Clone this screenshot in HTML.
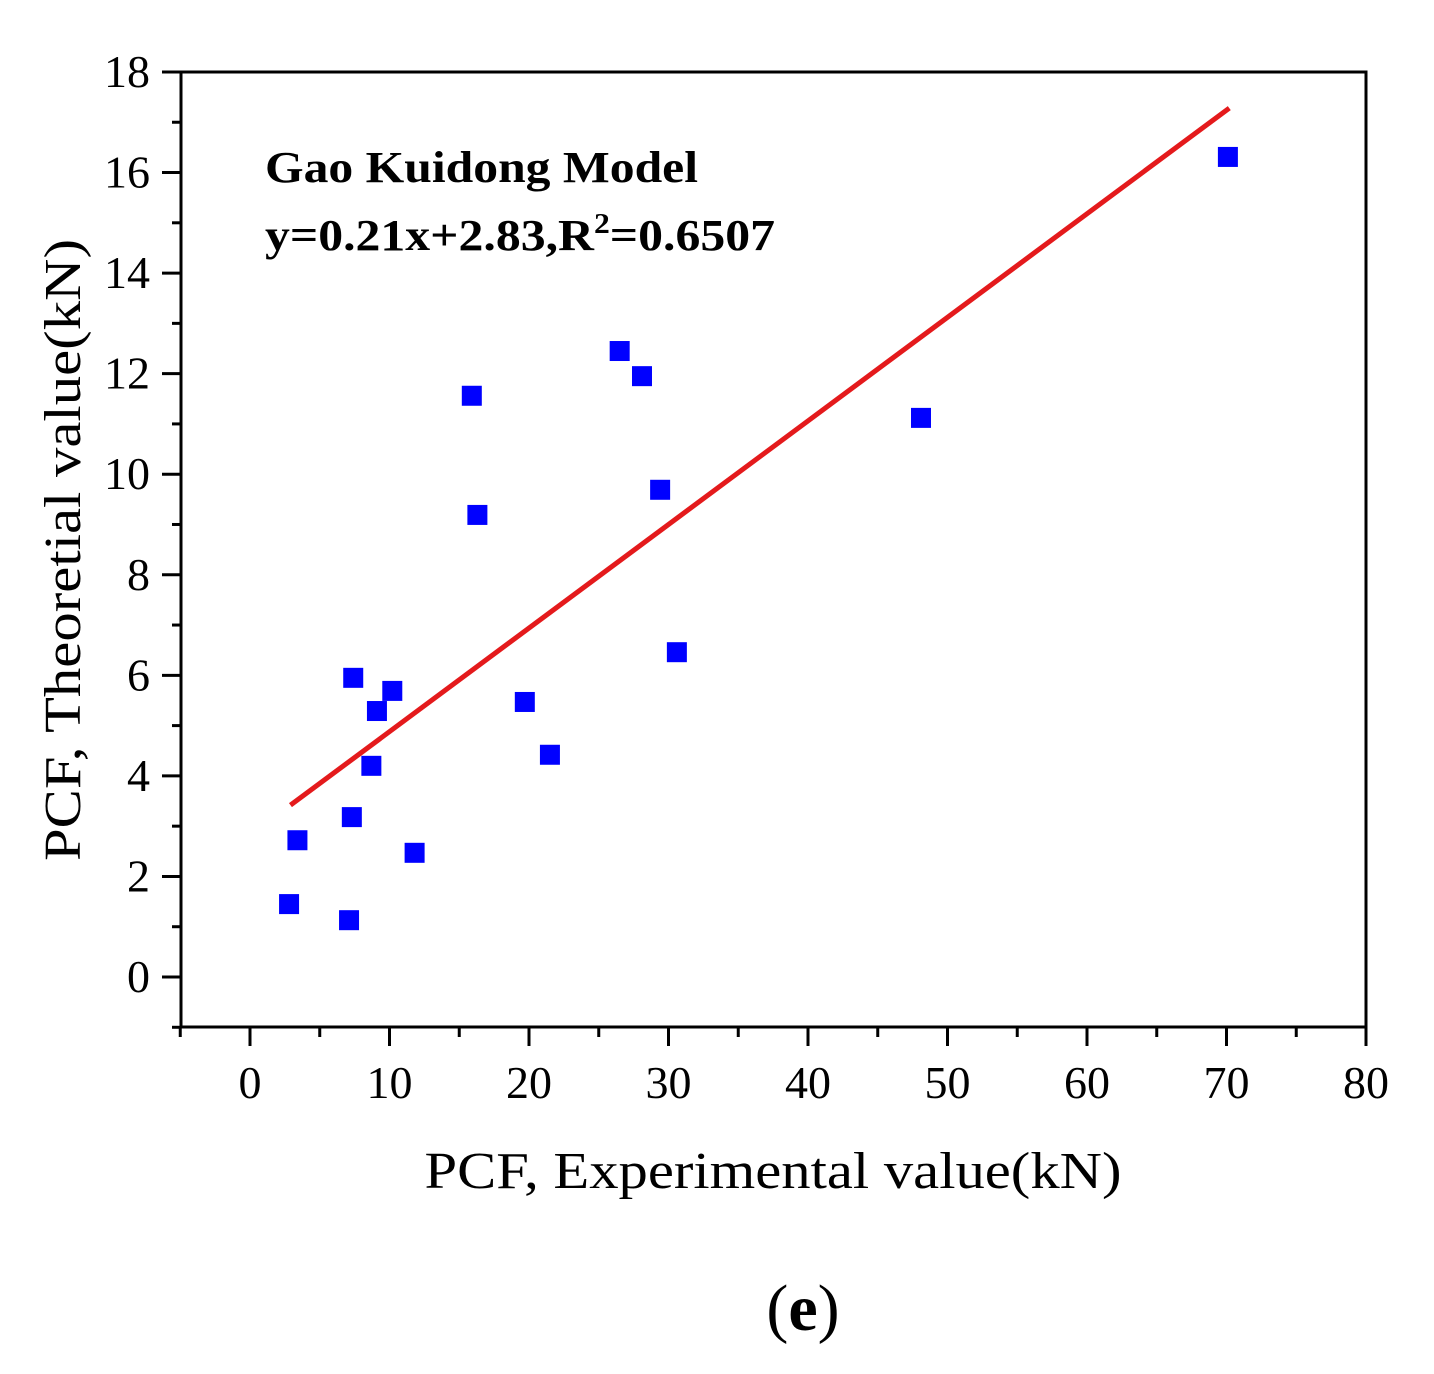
<!DOCTYPE html>
<html><head><meta charset="utf-8"><style>
html,body{margin:0;padding:0;background:#fff;}
svg{display:block;font-family:"Liberation Serif",serif;}
</style></head><body>
<svg id="chart" width="1434" height="1374" viewBox="0 0 1434 1374">
<rect x="181" y="72" width="1185" height="955" fill="none" stroke="#000" stroke-width="3"/>
<g id="axes"></g>
<g id="marks"></g>
<text x="265" y="182" font-size="44" font-weight="bold" textLength="433" lengthAdjust="spacingAndGlyphs">Gao Kuidong Model</text>
<text x="265" y="250" font-size="44" font-weight="bold" textLength="510" lengthAdjust="spacingAndGlyphs">y=0.21x+2.83,R<tspan dy="-17" font-size="28">2</tspan><tspan dy="17">=0.6507</tspan></text>
<text x="773" y="1188" font-size="52" text-anchor="middle" textLength="697" lengthAdjust="spacingAndGlyphs">PCF, Experimental value(kN)</text>
<text transform="translate(80,550) rotate(-90)" font-size="52" text-anchor="middle" textLength="622" lengthAdjust="spacingAndGlyphs">PCF, Theoretial value(kN)</text>
<text x="803" y="1330" font-size="66" text-anchor="middle"><tspan>(</tspan><tspan font-weight="bold">e</tspan><tspan>)</tspan></text>
</svg>
<script>
const xs=[2.8,3.4,7.1,7.3,7.4,8.7,9.1,10.2,11.8,15.9,16.3,19.7,21.5,26.5,28.1,29.4,30.6,48.1,70.1];
const ys=[1.45,2.72,1.13,3.18,5.95,4.2,5.29,5.69,2.47,11.56,9.19,5.47,4.42,12.45,11.95,9.69,6.46,11.12,16.31];
const xTicks=[0,10,20,30,40,50,60,70,80];
const yTicks=[0,2,4,6,8,10,12,14,16,18];
const fitSlope=[0.206];
const fitIntercept=[2.82];
const fitRange=[2.9,70.2];
const NS='http://www.w3.org/2000/svg';
const X=v=>250+(v)*13.95;
const Y=v=>977-(v)*50.28;
function mk(t,a,p){const e=document.createElementNS(NS,t);for(const k in a)e.setAttribute(k,a[k]);p.appendChild(e);return e;}
const ax=document.getElementById('axes'),mg=document.getElementById('marks');
for(let v=-5;v<=80;v+=5){const l=mk('line',{x1:X(v),x2:X(v),y1:1027,y2:v%10===0?1046:1037,stroke:'#000','stroke-width':3},ax);

}
xTicks.forEach(v=>{const t=mk('text',{x:X(v),y:1098,'font-size':46,'text-anchor':'middle'},ax);t.textContent=v;

});
for(let v=-1;v<=18;v+=1){const l=mk('line',{x1:181,x2:v%2===0?162:172,y1:Y(v),y2:Y(v),stroke:'#000','stroke-width':3},ax);

}
yTicks.forEach(v=>{const t=mk('text',{x:150,y:Y(v)+15,'font-size':46,'text-anchor':'end'},ax);t.textContent=v;

});
const fl=mk('line',{x1:X(fitRange[0]),y1:Y(fitSlope[0]*fitRange[0]+fitIntercept[0]),x2:X(fitRange[1]),y2:Y(fitSlope[0]*fitRange[1]+fitIntercept[0]),stroke:'#e41a1c','stroke-width':5},mg);


xs.forEach((v,i)=>{const r=mk('rect',{x:X(v)-10,y:Y(ys[i])-10,width:20,height:20,fill:'#0000ff'},mg);

});
</script>
</body></html>
